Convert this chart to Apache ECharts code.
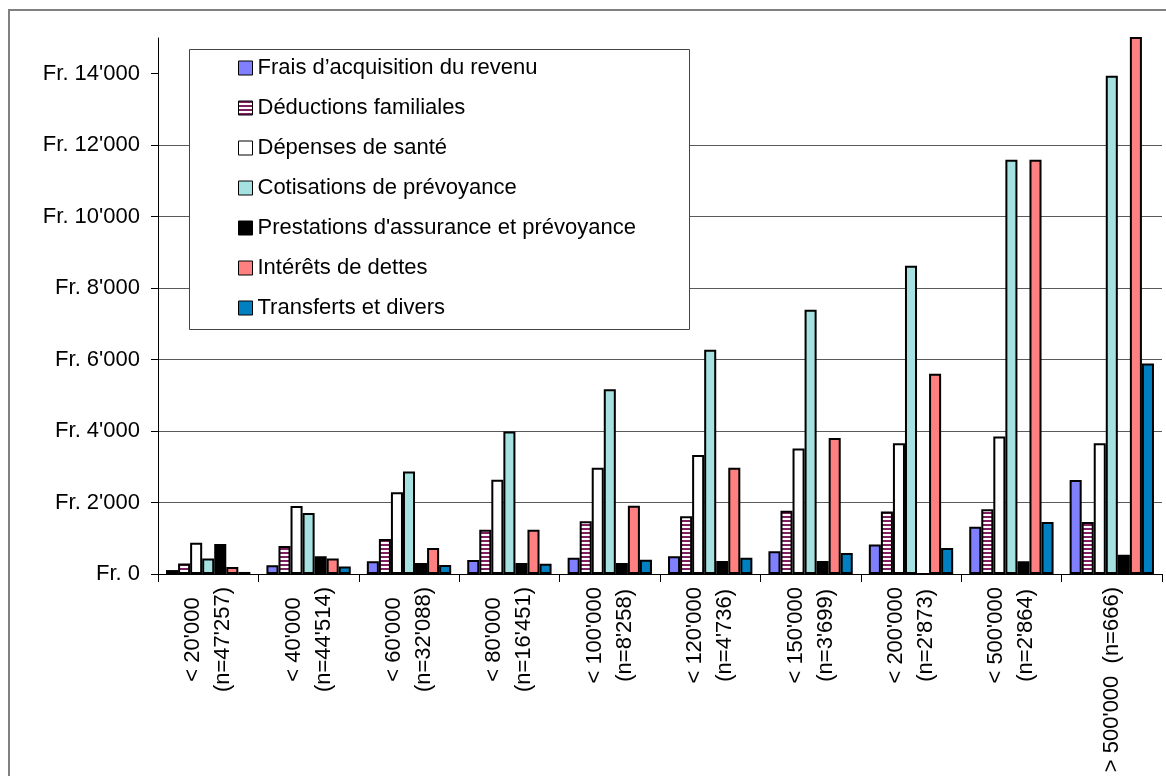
<!DOCTYPE html>
<html>
<head>
<meta charset="utf-8">
<script src="https://cdn.jsdelivr.net/npm/echarts@6/dist/echarts.min.js"></script>
<style>
  html, body { margin: 0; padding: 0; background: #ffffff; }
  #chart { width: 1166px; height: 776px; }
</style>
</head>
<body>
<div id="chart"></div>
<script>
// Income classes (CHF) with the number of taxpayers in each class
const categories = [
  "< 20'000\n(n=47'257)",
  "< 40'000\n(n=44'514)",
  "< 60'000\n(n=32'088)",
  "< 80'000\n(n=16'451)",
  "< 100'000\n(n=8'258)",
  "< 120'000\n(n=4'736)",
  "< 150'000\n(n=3'699)",
  "< 200'000\n(n=2'873)",
  "< 500'000\n(n=2'864)",
  "> 500'000  (n=666)"
];

const seriesNames = [
  "Frais d\u2019acquisition du revenu",
  "Déductions familiales",
  "Dépenses de santé",
  "Cotisations de prévoyance",
  "Prestations d'assurance et prévoyance",
  "Intérêts de dettes",
  "Transferts et divers"
];

// Average deduction per taxpayer, in francs
const fraisAcquisition = [110, 245, 355, 390, 457, 497, 637, 829, 1320, 2629];
const deductionsFamiliales = [292, 781, 980, 1235, 1478, 1618, 1767, 1749, 1811, 1453];
const depensesSante = [876, 1902, 2290, 2635, 2975, 3330, 3515, 3662, 3846, 3662];
const cotisationsPrevoyance = [433, 1705, 2870, 3990, 5170, 6275, 7397, 8624, 11591, 13944];
const prestationsAssurance = [838, 499, 310, 310, 310, 365, 365, 0, 358, 542];
const interetsDettes = [198, 433, 730, 1235, 1907, 2975, 3806, 5606, 11591, 16500];
const transfertsDivers = [57, 207, 250, 290, 400, 457, 589, 726, 1453, 5893];

const yTicks = [0, 2000, 4000, 6000, 8000, 10000, 12000, 14000];

const FONT = "'Liberation Sans', Arial, sans-serif";

// Horizontal purple/white stripes for the family deductions
function stripePattern() {
  const c = document.createElement('canvas');
  c.width = 8; c.height = 4;
  const g = c.getContext('2d');
  g.fillStyle = '#ffffff';
  g.fillRect(0, 0, 8, 4);
  g.fillStyle = '#7f1f5f';
  g.fillRect(0, 0, 8, 2);
  return c;
}

function formatFr(v) {
  if (v === 0) return 'Fr. 0';
  return 'Fr. ' + String(v).replace(/\B(?=(\d{3})+(?!\d))/g, "'");
}

const valueLists = [
  fraisAcquisition, deductionsFamiliales, depensesSante, cotisationsPrevoyance,
  prestationsAssurance, interetsDettes, transfertsDivers
];
const fills = [
  '#8080ff',
  { image: stripePattern(), repeat: 'repeat' },
  '#ffffff',
  '#a6e1e1',
  '#000000',
  '#ff8080',
  '#0080c0'
];

const series = seriesNames.map((name, i) => ({
  name: name,
  type: 'bar',
  data: valueLists[i],
  barGap: '0%',
  barCategoryGap: '16%',
  clip: true,
  itemStyle: { color: fills[i], borderColor: '#000000', borderWidth: 2 }
}));

const chart = echarts.init(document.getElementById('chart'), null, { renderer: 'canvas' });

chart.setOption({
  animation: false,
  backgroundColor: '#ffffff',
  grid: { left: 158, right: 4, top: 38, bottom: 202, containLabel: false },
  graphic: [
    {
      type: 'rect',
      shape: { x: 9, y: 10, width: 1200, height: 820 },
      style: { fill: 'none', stroke: '#808080', lineWidth: 2 },
      z: 1
    },
    {
      type: 'rect',
      shape: { x: 189.5, y: 49.5, width: 500, height: 280 },
      style: { fill: '#ffffff', stroke: '#444444', lineWidth: 1 },
      z: 3
    }
  ],
  legend: {
    orient: 'vertical',
    left: 233,
    top: 52,
    z: 4,
    itemWidth: 14,
    itemHeight: 14,
    itemGap: 18,
    icon: 'rect',
    selectedMode: false,
    data: seriesNames,
    itemStyle: { borderWidth: 1 },
    textStyle: { fontFamily: FONT, fontSize: 22, lineHeight: 22, color: '#000000' }
  },
  xAxis: {
    type: 'category',
    data: categories,
    axisLine: { lineStyle: { color: '#000000', width: 1 } },
    axisTick: { show: true, interval: 0, length: 8, lineStyle: { color: '#000000' } },
    axisLabel: {
      interval: 0,
      rotate: 90,
      margin: 13,
      fontFamily: FONT,
      fontSize: 22,
      lineHeight: 30,
      color: '#000000',
      formatter: (v) => v.split('\n').map(s => '{c|' + s + '}').join('\n'),
      rich: {
        c: { align: 'center', fontFamily: FONT, fontSize: 22, lineHeight: 30, color: '#000000' }
      }
    },
    splitLine: { show: false }
  },
  yAxis: {
    type: 'value',
    min: 0,
    max: 15000,
    interval: 2000,
    axisLine: { show: true, lineStyle: { color: '#000000', width: 1 } },
    axisTick: { show: true, length: 7, customValues: yTicks, lineStyle: { color: '#000000' } },
    axisLabel: {
      customValues: yTicks,
      margin: 18,
      fontFamily: FONT,
      fontSize: 22,
      color: '#000000',
      formatter: (v) => (v > 14000 ? '' : formatFr(v))
    },
    splitLine: {
      show: true,
      showMaxLine: false,
      lineStyle: { color: '#5a5a5a', width: 1 }
    }
  },
  series: series
});
</script>
</body>
</html>
